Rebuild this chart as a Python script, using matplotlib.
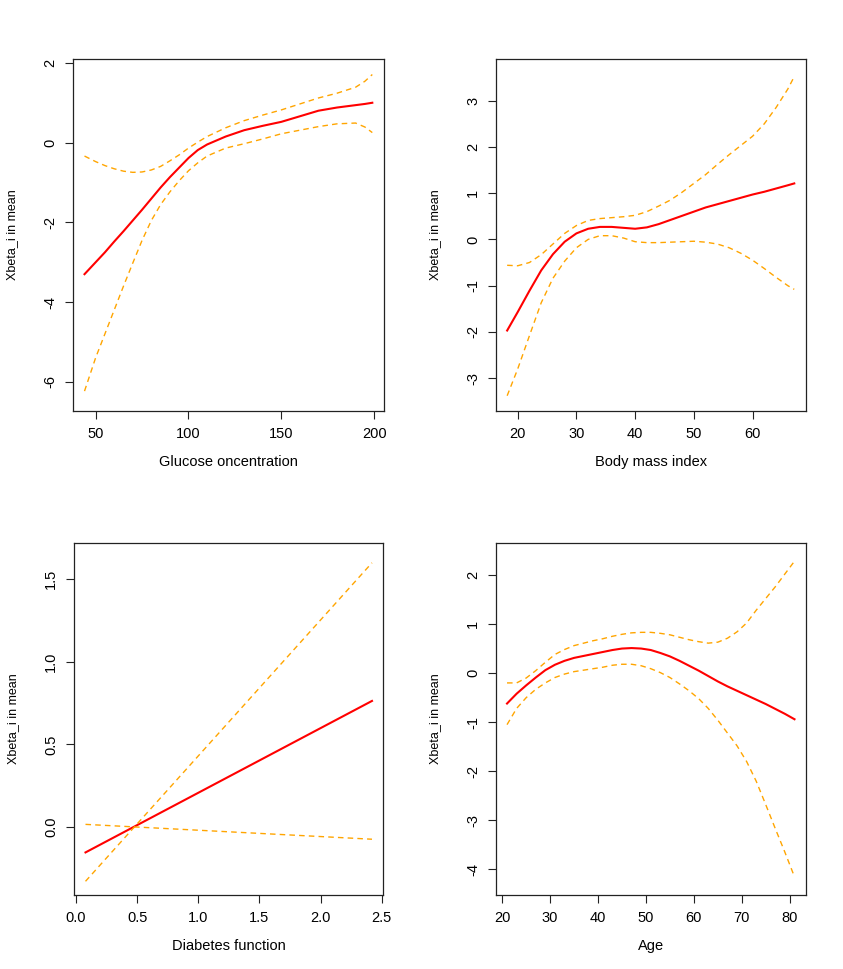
import matplotlib.pyplot as plt

plt.rcParams['font.family'] = ['Liberation Sans', 'DejaVu Sans']
plt.rcParams['axes.unicode_minus'] = False

# Glucose concentration
glu_x = [44, 50, 55, 60, 65, 70, 75, 80, 85, 90, 95, 100, 105, 110, 120, 130,
         140, 150, 160, 170, 180, 190, 195, 199]
glu_fit = [-3.30, -3.00, -2.75, -2.48, -2.22, -1.95, -1.68, -1.40, -1.12, -0.86,
           -0.62, -0.38, -0.18, -0.04, 0.16, 0.32, 0.43, 0.53, 0.67, 0.81, 0.89,
           0.95, 0.98, 1.01]
glu_up = [-0.33, -0.47, -0.57, -0.65, -0.71, -0.74, -0.73, -0.68, -0.59, -0.45,
          -0.30, -0.13, 0.02, 0.16, 0.38, 0.56, 0.70, 0.83, 0.98, 1.13, 1.25,
          1.40, 1.55, 1.72]
glu_lo = [-6.24, -5.40, -4.80, -4.20, -3.60, -3.02, -2.45, -1.95, -1.55, -1.23,
          -0.95, -0.70, -0.50, -0.33, -0.13, -0.02, 0.10, 0.23, 0.32, 0.41, 0.48,
          0.50, 0.40, 0.26]

# Body mass index
bmi_x = [18.2, 20, 22, 24, 26, 28, 30, 32, 34, 36, 38, 40, 42, 44, 46, 48, 50,
         52, 54, 56, 58, 60, 62, 64, 66, 67.1]
bmi_fit = [-1.97, -1.57, -1.11, -0.67, -0.32, -0.05, 0.13, 0.23, 0.27, 0.27, 0.25,
           0.23, 0.26, 0.33, 0.42, 0.51, 0.60, 0.69, 0.76, 0.83, 0.90, 0.97, 1.03,
           1.10, 1.17, 1.21]
bmi_up = [-0.56, -0.57, -0.50, -0.33, -0.10, 0.13, 0.30, 0.41, 0.45, 0.47, 0.49,
          0.52, 0.60, 0.72, 0.85, 1.02, 1.21, 1.40, 1.62, 1.83, 2.03, 2.23, 2.50,
          2.85, 3.25, 3.52]
bmi_lo = [-3.38, -2.80, -2.08, -1.37, -0.84, -0.47, -0.18, 0.00, 0.08, 0.08, 0.03,
          -0.05, -0.07, -0.07, -0.06, -0.05, -0.04, -0.06, -0.10, -0.18, -0.30,
          -0.45, -0.63, -0.82, -1.00, -1.08]

# Diabetes pedigree function (linear term)
dpf_x = [0.078, 2.42]
dpf_fit = [-0.155, 0.763]
dpf_up = [-0.33, 1.60]
dpf_lo = [0.015, -0.075]

# Age
age_x = [21, 23, 25, 27, 29, 31, 33, 35, 37, 39, 41, 43, 45, 47, 49, 51, 53, 55,
         57, 59, 61, 63, 65, 67, 69, 71, 73, 75, 77, 79, 81]
age_fit = [-0.62, -0.42, -0.25, -0.09, 0.06, 0.17, 0.25, 0.31, 0.35, 0.39, 0.43,
           0.47, 0.50, 0.51, 0.50, 0.47, 0.41, 0.34, 0.25, 0.15, 0.05, -0.06,
           -0.17, -0.27, -0.36, -0.45, -0.54, -0.63, -0.73, -0.83, -0.94]
age_up = [-0.20, -0.20, -0.10, 0.05, 0.22, 0.38, 0.48, 0.56, 0.61, 0.66, 0.70,
          0.75, 0.79, 0.82, 0.83, 0.83, 0.81, 0.78, 0.73, 0.68, 0.64, 0.61, 0.63,
          0.71, 0.84, 1.02, 1.28, 1.52, 1.76, 2.02, 2.28]
age_lo = [-1.05, -0.72, -0.50, -0.33, -0.20, -0.09, -0.02, 0.03, 0.06, 0.09, 0.12,
          0.16, 0.18, 0.18, 0.15, 0.09, 0.01, -0.09, -0.22, -0.36, -0.52, -0.72,
          -0.96, -1.22, -1.48, -1.80, -2.20, -2.68, -3.17, -3.65, -4.15]

W, H = 843, 969
fig = plt.figure(figsize=(W / 100, H / 100), dpi=100)

panels = [
    # pixel box (left, top, right, bottom), data, xlabel, xlim, ylim, xticks, yticks
    ((73, 59, 384, 411), glu_x, glu_fit, glu_up, glu_lo, 'Glucose oncentration',
     (37.8, 205.3), (-6.74, 2.11),
     ([50, 100, 150, 200], ['50', '100', '150', '200']),
     ([-6, -4, -2, 0, 2], ['-6', '-4', '-2', '0', '2'])),
    ((496, 59, 806, 411), bmi_x, bmi_fit, bmi_up, bmi_lo, 'Body mass index',
     (16.3, 69.1), (-3.71, 3.90),
     ([20, 30, 40, 50, 60], ['20', '30', '40', '50', '60']),
     ([-3, -2, -1, 0, 1, 2, 3], ['-3', '-2', '-1', '0', '1', '2', '3'])),
    ((74, 543, 383, 895), dpf_x, dpf_fit, dpf_up, dpf_lo, 'Diabetes function',
     (-0.016, 2.51), (-0.413, 1.72),
     ([0, 0.5, 1, 1.5, 2, 2.5], ['0.0', '0.5', '1.0', '1.5', '2.0', '2.5']),
     ([0, 0.5, 1, 1.5], ['0.0', '0.5', '1.0', '1.5'])),
    ((496, 543, 806, 895), age_x, age_fit, age_up, age_lo, 'Age',
     (18.7, 83.4), (-4.52, 2.65),
     ([20, 30, 40, 50, 60, 70, 80], ['20', '30', '40', '50', '60', '70', '80']),
     ([-4, -3, -2, -1, 0, 1, 2], ['-4', '-3', '-2', '-1', '0', '1', '2'])),
]

for box, x, fit, up, lo, xlab, xlim, ylim, xt, yt in panels:
    l, t, r, b = box
    ax = fig.add_axes([l / W, 1 - b / H, (r - l) / W, (b - t) / H])
    ax.plot(x, fit, color='red', lw=1.5)
    ax.plot(x, up, color='orange', lw=1.0, dashes=(4, 3))
    ax.plot(x, lo, color='orange', lw=1.0, dashes=(4, 3))
    ax.set_xlim(*xlim)
    ax.set_ylim(*ylim)
    ax.set_xticks(xt[0], xt[1])
    ax.set_yticks(yt[0], yt[1])
    ax.tick_params(direction='out', length=5.5, width=0.8, pad=6,
                   labelsize=10.5, color='#222222')
    for lab in ax.get_yticklabels():
        lab.set_rotation(90)
        lab.set_va('center')
    for s in ax.spines.values():
        s.set_linewidth(0.9)
        s.set_color('#222222')
    ax.set_xlabel(xlab, fontsize=10.5, labelpad=10)
    ax.set_ylabel('Xbeta_i in mean', fontsize=9, labelpad=18)

fig.savefig('out.png', dpi=100)
